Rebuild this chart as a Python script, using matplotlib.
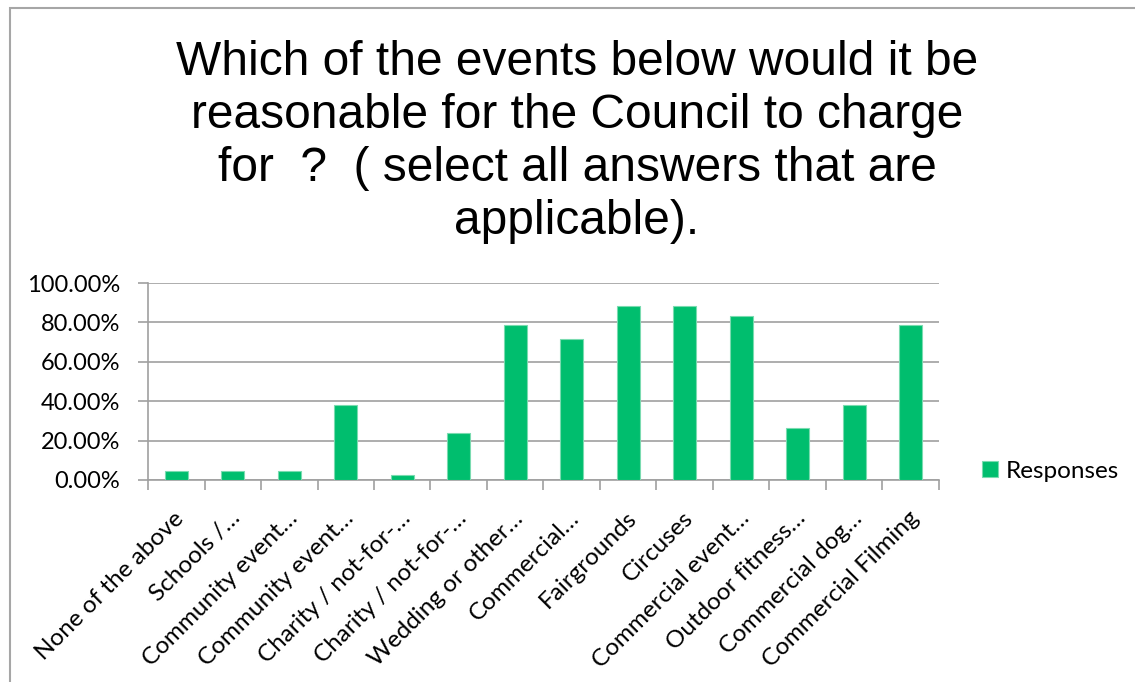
import matplotlib.pyplot as plt
import matplotlib
from matplotlib.patches import Rectangle
from matplotlib.ticker import FuncFormatter

matplotlib.rcParams['font.family'] = 'Lato'

categories = [
    "None of the above", "Schools /…", "Community event…", "Community event…",
    "Charity / not-for-…", "Charity / not-for-…", "Wedding or other…",
    "Commercial…", "Fairgrounds", "Circuses", "Commercial event…",
    "Outdoor fitness…", "Commercial dog…", "Commercial Filming",
]
responses = [4.76, 4.76, 4.76, 38.10, 2.38, 23.81, 78.57,
             71.43, 88.10, 88.10, 83.33, 26.19, 38.10, 78.57]
y_ticks = [0, 20, 40, 60, 80, 100]

title = ("Which of the events below would it be\n"
         "reasonable for the Council to charge\n"
         "for  ?  ( select all answers that are\n"
         "applicable).")

W, H = 1135, 682
fig = plt.figure(figsize=(W / 100, H / 100), dpi=100)

# chart border (runs past the right and bottom edge)
fig.patches.append(Rectangle((10 / W, -0.1), 1.2, 1 - 8 / H + 0.1,
                             transform=fig.transFigure, fill=False,
                             edgecolor="#A6A6A6", linewidth=1.5))

fig.text(577 / W, 1 - 142 / H, title, ha="center", va="center",
         fontsize=34.5, family="Liberation Sans", linespacing=1.22)

ax = fig.add_axes([148 / W, 1 - 480 / H, (939 - 148) / W, (480 - 283) / H])
x = list(range(len(categories)))
ax.bar(x, responses, width=0.4, color="#00BE6E", edgecolor="#7ADBB0",
       linewidth=0.8, label="Responses", zorder=3)

ax.set_xlim(-0.5, len(categories) - 0.5)
ax.set_ylim(0, 100)
ax.set_yticks(y_ticks)
ax.yaxis.set_major_formatter(FuncFormatter(lambda v, p: f"{v:.2f}%"))
ax.yaxis.grid(True, color="#A0A0A0", linewidth=1.2, zorder=0)

# category boundary ticks on the x axis
ax.set_xticks([i - 0.5 for i in range(len(categories) + 1)])
ax.set_xticklabels([])
ax.tick_params(axis="x", direction="out", length=7, color="#A0A0A0", width=1.2)
ax.tick_params(axis="y", direction="out", length=7, color="#A0A0A0", width=1.2,
               labelsize=17, pad=13)
for i, lab in enumerate(categories):
    ax.text(i - 0.05, -14, lab, rotation=45, ha="right", va="top",
            rotation_mode="anchor", fontsize=17.5)

for side in ["top", "right"]:
    ax.spines[side].set_visible(False)
for side in ["left", "bottom"]:
    ax.spines[side].set_color("#A0A0A0")
    ax.spines[side].set_linewidth(1.2)

ax.legend(loc="center left", bbox_to_anchor=(960 / W, 1 - 471 / H),
          bbox_transform=fig.transFigure, frameon=False, fontsize=17.5,
          handlelength=0.65, handleheight=0.65, handletextpad=0.35)

plt.savefig("out.png", dpi=100)
